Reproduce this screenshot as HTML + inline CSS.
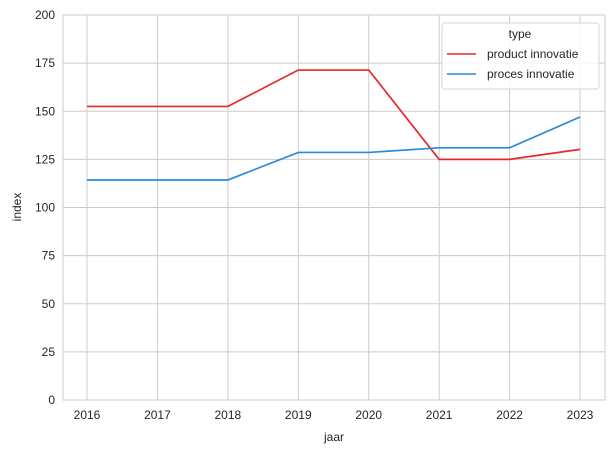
<!DOCTYPE html>
<html><head><meta charset="utf-8"><style>
body{margin:0;background:#fff;}
svg text{font-family:"Liberation Sans",Arial,sans-serif;fill:#262626;}
</style></head><body>
<svg id="chart" width="615" height="453" xmlns="http://www.w3.org/2000/svg">
<g id="grid"></g>
<rect x="63" y="15" width="542" height="385" fill="none" stroke="#cccccc" stroke-width="1"/>
<g id="series"></g>
<g id="ticks"></g>
<text x="334" y="441" font-size="12" text-anchor="middle">jaar</text>
<text transform="translate(21,207) rotate(-90)" font-size="12" text-anchor="middle">index</text>
<g>
<rect x="442" y="23" width="157" height="66" rx="3" fill="#fff" fill-opacity="0.8" stroke="#d6d6d6"/>
<text x="520" y="38" font-size="12" text-anchor="middle">type</text>
<line x1="447" y1="54" x2="476" y2="54" stroke="#e8262b" stroke-width="1.6"/>
<text x="487" y="58" font-size="12">product innovatie</text>
<line x1="447" y1="74" x2="476" y2="74" stroke="#2a8bd6" stroke-width="1.6"/>
<text x="487" y="78" font-size="12">proces innovatie</text>
</g>
</svg>
<script>
const years = [2016,2017,2018,2019,2020,2021,2022,2023];
const productValues = [152.5,152.5,152.5,171.4,171.4,125,125,130.2];
const procesValues = [114.3,114.3,114.3,128.6,128.6,131,131,147];
const yTicks = [0,25,50,75,100,125,150,175,200];
const NS="http://www.w3.org/2000/svg";
function xs(v){return 87+(v-2016)*(580-87)/7;}
function ys(v){return 400-v*(385/200);}
const grid=document.getElementById('grid'), ticks=document.getElementById('ticks'), series=document.getElementById('series');
years.forEach(y=>{
  const l=document.createElementNS(NS,'line');
  
  
  l.setAttribute('x1',xs(y));l.setAttribute('x2',xs(y));l.setAttribute('y1',15);l.setAttribute('y2',400);
  l.setAttribute('stroke','#cccccc');grid.appendChild(l);
  const t=document.createElementNS(NS,'text');
  
  
  t.setAttribute('x',xs(y));t.setAttribute('y',419);t.setAttribute('font-size','12');t.setAttribute('text-anchor','middle');
  t.textContent=y;ticks.appendChild(t);
});
yTicks.forEach(v=>{
  const l=document.createElementNS(NS,'line');
  
  
  l.setAttribute('x1',63);l.setAttribute('x2',605);l.setAttribute('y1',ys(v));l.setAttribute('y2',ys(v));
  l.setAttribute('stroke','#cccccc');grid.appendChild(l);
  const t=document.createElementNS(NS,'text');
  
  
  t.setAttribute('x',55);t.setAttribute('y',ys(v)+4);t.setAttribute('font-size','12');t.setAttribute('text-anchor','end');
  t.textContent=v;ticks.appendChild(t);
});
function drawLine(vals,color,name){
  const p=document.createElementNS(NS,'polyline');
  
  
  p.setAttribute('points',vals.map((v,i)=>xs(years[i])+','+ys(v)).join(' '));
  p.setAttribute('fill','none');p.setAttribute('stroke',color);p.setAttribute('stroke-width','1.7');
  series.appendChild(p);
}
drawLine(productValues,'#e8262b','product-innovatie-line');
drawLine(procesValues,'#2a8bd6','proces-innovatie-line');
</script>
</body></html>
